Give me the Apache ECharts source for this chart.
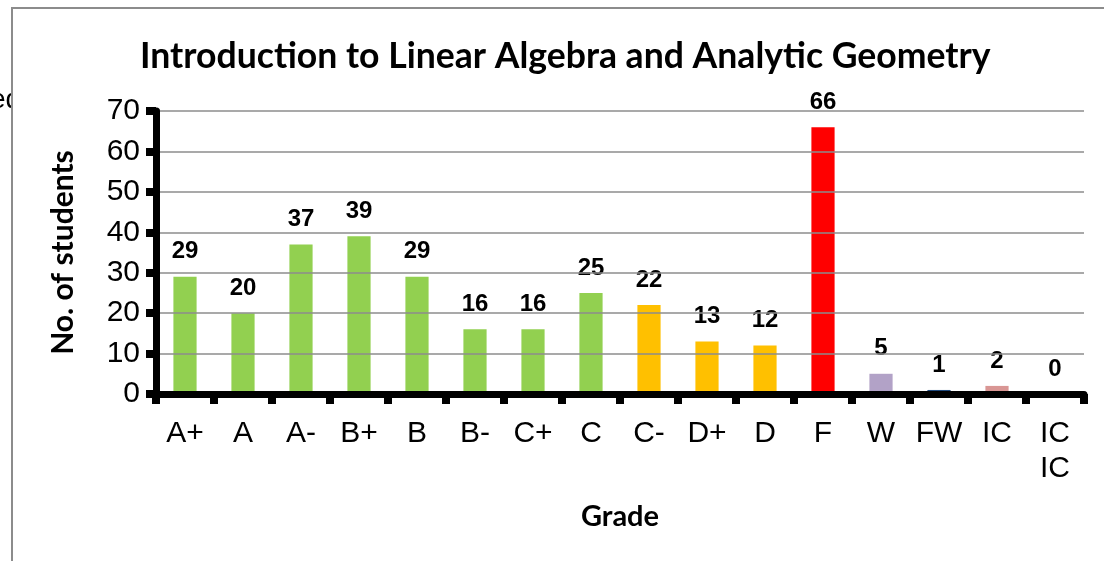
<!DOCTYPE html>
<html>
<head>
<meta charset="utf-8">
<script src="https://cdn.jsdelivr.net/npm/echarts@6/dist/echarts.min.js"></script>
<style>
  html, body { margin: 0; padding: 0; background: #fff; }
  #chart { width: 1104px; height: 561px; }
</style>
</head>
<body>
<div id="chart"></div>
<script>
// 数据
var grades = ['A+', 'A', 'A-', 'B+', 'B', 'B-', 'C+', 'C', 'C-', 'D+', 'D', 'F', 'W', 'FW', 'IC', 'IC\nIC'];
var students = [29, 20, 37, 39, 29, 16, 16, 25, 22, 13, 12, 66, 5, 1, 2, 0];
var barColors = ['#92D050', '#92D050', '#92D050', '#92D050', '#92D050', '#92D050', '#92D050', '#92D050',
                 '#FFC000', '#FFC000', '#FFC000', '#FF0000', '#B2A2C7', '#1F497D', '#D99694', '#D99694'];
var yTicks = [0, 10, 20, 30, 40, 50, 60, 70];

var myChart = echarts.init(document.getElementById('chart'));
var option = {
    animation: false,
    title: {
        text: 'Introduction to Linear Algebra and Analytic Geometry',
        left: 135,
        top: 34,
        textStyle: { fontFamily: 'Lato', fontWeight: 'bold', fontSize: 35.6, color: '#000' }
    },
    graphic: [
        {   // 左侧被截断的文字
            type: 'text', z: -2, left: -10, top: 86,
            style: { text: 'ed', font: '28px "Liberation Sans", Arial', fill: '#000' }
        },
        {   // 图表外框
            type: 'rect', z: -1, shape: { x: 12, y: 8, width: 1110, height: 570 },
            style: { fill: '#fff', stroke: '#8c8c8c', lineWidth: 2 }
        }
    ],
    grid: { left: 156, right: 20, top: 111, bottom: 167 },
    xAxis: {
        type: 'category',
        data: grades,
        z: 5,
        name: 'Grade',
        nameLocation: 'middle',
        nameGap: 108,
        nameTextStyle: { fontFamily: 'Lato', fontWeight: 'bold', fontSize: 29, color: '#000' },
        axisLine: { lineStyle: { color: '#000', width: 7 } },
        axisTick: { show: true, interval: 0, length: 10, lineStyle: { color: '#000', width: 8 } },
        axisLabel: { interval: 0, margin: 22, fontFamily: '"Liberation Sans", Arial', fontSize: 30, color: '#000', lineHeight: 35 }
    },
    yAxis: {
        type: 'value',
        min: 0,
        max: 70,
        interval: 10,
        z: 5,
        name: 'No. of students',
        nameLocation: 'middle',
        nameGap: 78,
        nameTextStyle: { fontFamily: 'Lato', fontWeight: 'bold', fontSize: 30, color: '#000' },
        axisLine: { show: true, lineStyle: { color: '#000', width: 7 } },
        axisTick: { show: true, length: 10, lineStyle: { color: '#000', width: 8 } },
        axisLabel: {
            margin: 16,
            fontFamily: '"Liberation Sans", Arial', fontSize: 30, color: '#000',
            formatter: function (v) { return yTicks.indexOf(v) >= 0 ? String(v) : ''; }
        },
        splitLine: { showMinLine: false, lineStyle: { color: '#8c8c8c', width: 1.5 } }
    },
    series: [{
        type: 'bar',
        barWidth: '40%',
        data: students.map(function (v, i) {
            return { value: v, itemStyle: { color: barColors[i] } };
        }),
        label: {
            show: true,
            position: 'top',
            distance: 13,
            fontFamily: '"Liberation Sans", Arial',
            fontWeight: 'bold',
            fontSize: 24,
            color: '#000'
        }
    }]
};
myChart.setOption(option);
</script>
</body>
</html>
